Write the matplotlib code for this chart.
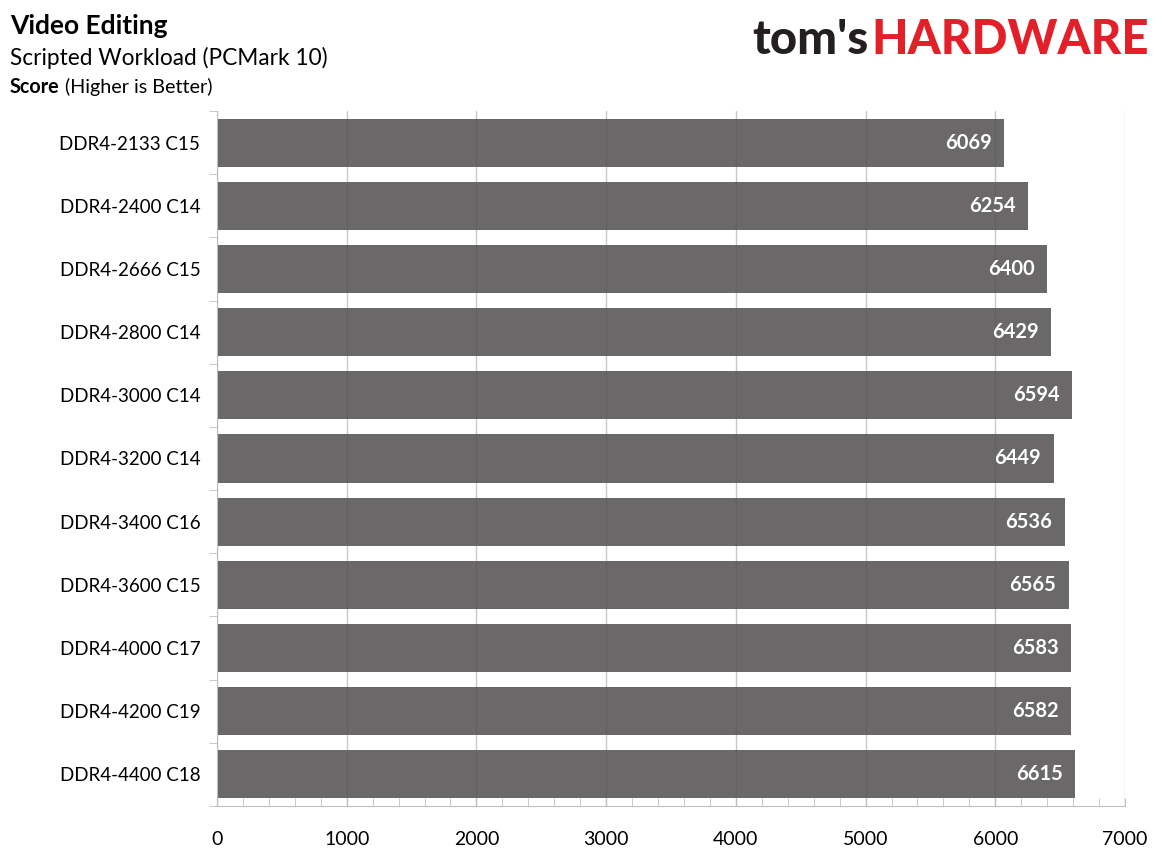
import matplotlib
matplotlib.use("Agg")
import matplotlib.pyplot as plt
from matplotlib.ticker import MultipleLocator

# chart data
categories = ["DDR4-2133 C15", "DDR4-2400 C14", "DDR4-2666 C15", "DDR4-2800 C14",
              "DDR4-3000 C14", "DDR4-3200 C14", "DDR4-3400 C16", "DDR4-3600 C15",
              "DDR4-4000 C17", "DDR4-4200 C19", "DDR4-4400 C18"]
scores = [6069, 6254, 6400, 6429, 6594, 6449, 6536, 6565, 6583, 6582, 6615]
x_ticks = [0, 1000, 2000, 3000, 4000, 5000, 6000, 7000]

plt.rcParams['font.family'] = ['Lato', 'DejaVu Sans']

W, H = 1162, 861
fig = plt.figure(figsize=(W / 100, H / 100), dpi=100)
ax = fig.add_axes([217 / W, 1 - 806 / H, (1125 - 217) / W, (806 - 111) / H])

ypos = list(range(len(categories)))
ax.barh(ypos, scores, height=0.76, color="#5a5758", alpha=0.9, zorder=2)
for y, v in zip(ypos, scores):
    ax.annotate(str(v), (v, y), xytext=(-9, 0), textcoords="offset points",
                ha="right", va="center", color="white",
                fontsize=14.5, fontweight="bold", zorder=4)

ax.set_xlim(0, 7000)
ax.set_ylim(len(categories) - 0.5, -0.5)
ax.set_xticks(x_ticks)
ax.xaxis.set_minor_locator(MultipleLocator(200))
ax.tick_params(axis="x", which="both", direction="in", length=6, color="#bfbfbf",
               labelsize=14, pad=18)
ax.set_yticks(ypos)
ax.set_yticklabels(categories)
ax.set_yticks([i + 0.5 for i in range(-1, len(categories))], minor=True)
ax.tick_params(axis="y", which="major", length=0, labelsize=13.5, pad=12)
ax.tick_params(axis="y", which="minor", length=6, color="#bfbfbf")
ax.grid(axis="x", which="major", color="#c8c8c8", linewidth=1, zorder=1)
ax.set_axisbelow(True)
for s in ["top", "right"]:
    ax.spines[s].set_visible(False)
for s in ["left", "bottom"]:
    ax.spines[s].set_color("#bfbfbf")

# headings
fig.text(10 / W, 1 - 34 / H, "Video Editing", fontsize=19, fontweight="bold")
fig.text(10 / W, 1 - 65 / H, "Scripted Workload (PCMark 10)", fontsize=16.3)
s = fig.text(10 / W, 1 - 93 / H, "Score", fontsize=14.2, fontweight="bold")
fig.canvas.draw()
sb = s.get_window_extent()
fig.text((sb.x1 + 5) / W, 1 - 93 / H, "(Higher is Better)", fontsize=14.2)

# logo
t = fig.text(752 / W, 1 - 54 / H, "tom's", fontsize=34, fontweight="black", color="#231f20")
fig.canvas.draw()
bb = t.get_window_extent()
fig.text((bb.x1 + 3) / W, 1 - 54 / H, "HARDWARE", fontsize=34, fontweight="black",
         color="#e3202a")

fig.savefig("out.png", dpi=100)
